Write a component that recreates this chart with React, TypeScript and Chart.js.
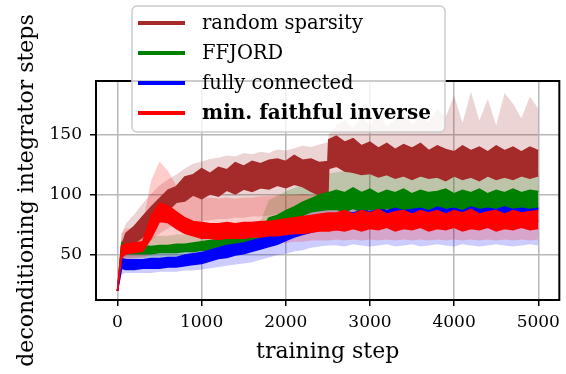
import React, { useEffect, useRef } from "react";
import { Chart, registerables } from "chart.js";

Chart.register(...registerables);

const steps = [0, 50, 100, 200, 300, 400, 500, 600, 700, 800, 900, 1000, 1100, 1200, 1300, 1400, 1500, 1600, 1700, 1800, 1900, 2000, 2100, 2200, 2300, 2400, 2500, 2510, 2600, 2700, 2800, 2900, 3000, 3100, 3200, 3300, 3400, 3500, 3600, 3700, 3800, 3900, 4000, 4100, 4200, 4300, 4400, 4500, 4600, 4700, 4800, 4900, 5000];

const xTicks = [0, 1000, 2000, 3000, 4000, 5000];
const yTicks = [50, 100, 150];

const legendLabels = ["random sparsity", "FFJORD", "fully connected", "min. faithful inverse"];

// random sparsity
const randomHi = [20, 58, 68, 74, 82, 90, 97, 104, 107, 115, 117, 122, 118, 123, 121, 127, 124, 128, 126, 129, 130, 128, 133, 129, 130, 127, 128, 146, 149, 144, 147, 141, 144, 139, 143, 138, 142, 139, 143, 137, 141, 138, 136, 141, 137, 140, 136, 141, 137, 140, 136, 140, 137];
const randomLo = [20, 52, 57, 60, 65, 74, 83, 87, 94, 95, 100, 97, 101, 99, 104, 101, 105, 103, 106, 105, 108, 106, 109, 107, 103, 100, 99, 122, 124, 120, 119, 117, 118, 115, 117, 114, 116, 113, 116, 114, 115, 112, 116, 113, 115, 112, 116, 113, 115, 113, 116, 114, 116];
const randomShadeHi = [20, 68, 76, 84, 93, 101, 108, 113, 117, 122, 126, 128, 130, 131, 133, 132, 135, 134, 136, 135, 138, 137, 139, 141, 140, 142, 144, 150, 158, 162, 156, 165, 158, 168, 157, 163, 170, 159, 166, 161, 172, 165, 183, 160, 186, 162, 180, 158, 185, 176, 164, 182, 172];
const randomShadeLo = [20, 48, 52, 55, 58, 62, 68, 72, 76, 78, 78, 78, 79, 80, 80, 81, 81, 82, 82, 83, 84, 85, 86, 88, 88, 89, 90, 100, 101, 100, 101, 100, 101, 100, 101, 100, 101, 100, 101, 100, 101, 100, 101, 100, 101, 100, 101, 100, 101, 100, 101, 100, 101];

// FFJORD
const ffjordHi = [20, 60, 57, 57, 58, 57, 58, 58, 59, 59, 60, 61, 62, 63, 63, 65, 66, 67, 70, 81, 83, 87, 90, 94, 97, 100, 102, 102, 104, 102, 106, 102, 105, 101, 104, 102, 105, 101, 104, 102, 103, 105, 101, 104, 102, 105, 101, 104, 102, 105, 102, 104, 103];
const ffjordLo = [20, 53, 51, 51, 51, 51, 52, 52, 52, 53, 53, 54, 54, 55, 56, 57, 58, 59, 62, 72, 74, 77, 80, 83, 86, 87, 88, 88, 88, 86, 89, 86, 88, 86, 89, 87, 88, 86, 89, 87, 88, 86, 89, 87, 88, 86, 89, 87, 88, 86, 88, 87, 89];
const ffjordShadeHi = [20, 62, 63, 64, 64, 65, 66, 66, 67, 67, 68, 68, 69, 70, 71, 72, 73, 75, 78, 96, 99, 103, 106, 108, 110, 112, 114, 118, 119, 120, 119, 120, 119, 120, 119, 120, 119, 120, 119, 120, 119, 120, 119, 120, 119, 120, 119, 120, 119, 120, 119, 120, 119];
const ffjordShadeLo = [20, 46, 47, 47, 47, 47, 48, 48, 48, 49, 49, 50, 50, 51, 52, 53, 53, 55, 57, 62, 64, 67, 70, 73, 76, 78, 79, 80, 80, 81, 80, 81, 80, 81, 80, 81, 80, 81, 80, 81, 80, 81, 80, 81, 80, 81, 80, 81, 80, 81, 80, 81, 80];

// fully connected
const fullHi = [20, 47, 46, 46, 46, 47, 47, 48, 48, 50, 51, 52, 54, 56, 58, 59, 60, 62, 64, 66, 68, 71, 73, 76, 79, 81, 83, 83, 84, 86, 85, 87, 86, 88, 87, 89, 87, 88, 89, 87, 90, 88, 89, 87, 90, 88, 89, 88, 90, 88, 89, 88, 89];
const fullLo = [20, 39, 38, 38, 39, 39, 39, 40, 40, 41, 42, 43, 45, 47, 48, 50, 51, 53, 55, 57, 59, 62, 65, 67, 69, 71, 72, 72, 73, 74, 74, 75, 75, 76, 76, 76, 76, 76, 77, 76, 77, 77, 77, 77, 77, 77, 78, 77, 78, 77, 78, 78, 78];
const fullShadeHi = [20, 52, 52, 52, 52, 53, 53, 54, 55, 56, 57, 58, 60, 62, 64, 66, 68, 70, 72, 74, 76, 79, 82, 85, 88, 90, 92, 92, 95, 93, 100, 94, 96, 92, 99, 93, 95, 92, 98, 93, 94, 92, 97, 93, 95, 92, 99, 93, 94, 92, 96, 93, 94];
const fullShadeLo = [20, 34, 35, 35, 35, 35, 36, 36, 36, 37, 37, 38, 39, 40, 41, 42, 43, 44, 46, 48, 50, 51, 53, 54, 56, 57, 58, 58, 58, 57, 59, 58, 57, 58, 59, 57, 58, 59, 57, 58, 59, 58, 57, 59, 58, 57, 58, 59, 58, 57, 58, 59, 58];

// min. faithful inverse
const minFaithHi = [20, 58, 59, 60, 61, 82, 93, 91, 86, 81, 78, 77, 76, 76, 77, 76, 77, 77, 78, 78, 79, 80, 81, 82, 83, 84, 85, 85, 85, 87, 84, 87, 85, 88, 84, 86, 87, 84, 87, 85, 87, 84, 87, 85, 88, 84, 86, 87, 84, 87, 85, 86, 87];
const minFaithLo = [20, 48, 51, 52, 53, 64, 78, 77, 72, 68, 66, 64, 64, 63, 64, 64, 64, 65, 65, 66, 66, 67, 68, 68, 69, 70, 70, 70, 71, 70, 72, 70, 72, 71, 73, 70, 72, 71, 73, 70, 72, 71, 73, 70, 72, 71, 73, 70, 72, 71, 73, 71, 72];
const minShadeHi = [20, 68, 72, 72, 76, 112, 128, 120, 108, 102, 100, 98, 98, 97, 98, 97, 98, 98, 99, 99, 100, 100, 100, 101, 100, 100, 100, 98, 98, 97, 98, 97, 98, 97, 98, 97, 98, 97, 98, 97, 98, 97, 98, 97, 98, 97, 98, 97, 98, 97, 98, 97, 98];
const minShadeLo = [20, 42, 46, 47, 48, 50, 54, 56, 57, 57, 56, 56, 56, 57, 57, 58, 58, 58, 59, 59, 60, 60, 61, 61, 62, 62, 62, 62, 63, 62, 63, 62, 63, 62, 63, 62, 63, 62, 63, 62, 63, 62, 63, 62, 63, 62, 63, 62, 63, 62, 63, 62, 63];

const COLORS = ["#a52a2a", "#008000", "#0000ff", "#ff0000"];
const SHADES = ["rgba(165,42,42,0.2)", "rgba(0,128,0,0.2)", "rgba(0,0,255,0.2)", "rgba(255,0,0,0.2)"];

const pts = (arr: number[]) => steps.map((s, i) => ({ x: s, y: arr[i] }));

function band(hi: number[], lo: number[], color: string, order: number, solid: boolean) {
  const common = {
    pointRadius: 0,
    tension: 0,
    order,
    borderColor: solid ? color : "rgba(0,0,0,0)",
    borderWidth: solid ? 1.5 : 0,
  };
  return [
    { ...common, data: pts(hi), fill: "+1", backgroundColor: color },
    { ...common, data: pts(lo), fill: false, backgroundColor: color },
  ];
}

const SERIF = "'DejaVu Serif', serif";

const frameAndLegend = {
  id: "frameAndLegend",
  afterDatasetsDraw(chart: any) {
    const { ctx, chartArea } = chart;
    ctx.save();
    ctx.strokeStyle = "#000";
    ctx.lineWidth = 2;
    ctx.strokeRect(chartArea.left, chartArea.top, chartArea.right - chartArea.left, chartArea.bottom - chartArea.top);
    ctx.restore();
  },
  afterDraw(chart: any) {
    const ctx = chart.ctx;
    ctx.save();
    ctx.beginPath();
    ctx.roundRect(132, 6, 313, 126, 5);
    ctx.fillStyle = "rgba(255,255,255,0.8)";
    ctx.fill();
    ctx.strokeStyle = "#cccccc";
    ctx.lineWidth = 1.5;
    ctx.stroke();
    legendLabels.forEach((label, i) => {
      const cy = 23 + i * 30;
      ctx.beginPath();
      ctx.moveTo(138, cy);
      ctx.lineTo(185, cy);
      ctx.strokeStyle = COLORS[i];
      ctx.lineWidth = 4;
      ctx.stroke();
      ctx.fillStyle = "#000";
      ctx.font = (i === 3 ? "bold 20px " : "19.5px ") + SERIF;
      ctx.textBaseline = "middle";
      ctx.textAlign = "left";
      ctx.fillText(label, 202, cy + 1);
    });
    ctx.restore();
  },
};

export default function App() {
  const ref = useRef<HTMLCanvasElement | null>(null);
  useEffect(() => {
    if (!ref.current) return;
    const datasets = [
      ...band(minFaithHi, minFaithLo, COLORS[3], 1, true),
      ...band(fullHi, fullLo, COLORS[2], 2, true),
      ...band(ffjordHi, ffjordLo, COLORS[1], 3, true),
      ...band(randomHi, randomLo, COLORS[0], 4, true),
      ...band(minShadeHi, minShadeLo, SHADES[3], 5, false),
      ...band(fullShadeHi, fullShadeLo, SHADES[2], 6, false),
      ...band(ffjordShadeHi, ffjordShadeLo, SHADES[1], 7, false),
      ...band(randomShadeHi, randomShadeLo, SHADES[0], 8, false),
    ];
    const chart = new Chart(ref.current, {
      type: "line",
      data: { datasets: datasets as any },
      plugins: [frameAndLegend],
      options: {
        animation: false,
        responsive: true,
        maintainAspectRatio: false,
        devicePixelRatio: 1,
        layout: { padding: { top: 81, right: 2, left: 0, bottom: 0 } },
        plugins: { legend: { display: false }, tooltip: { enabled: false } },
        scales: {
          x: {
            type: "linear",
            min: -255,
            max: 5250,
            afterBuildTicks: (axis: any) => {
              axis.ticks = xTicks.map((v) => ({ value: v }));
            },
            afterFit: (scale: any) => {
              scale.height = 74;
            },
            grid: { color: "#b8b8b8", lineWidth: 1.5, tickColor: "#000", tickLength: 6, tickWidth: 1.5 },
            border: { display: false },
            ticks: {
              color: "#000",
              font: { family: SERIF, size: 17 },
              padding: 6,
              maxRotation: 0,
              callback: (v: any) => String(v),
            },
            title: {
              display: true,
              text: "training step",
              color: "#000",
              font: { family: SERIF, size: 22 },
              padding: { top: 0, bottom: 9 },
            },
          },
          y: {
            type: "linear",
            min: 12.5,
            max: 195,
            afterBuildTicks: (axis: any) => {
              axis.ticks = yTicks.map((v) => ({ value: v }));
            },
            afterFit: (scale: any) => {
              scale.width = 96;
            },
            grid: { color: "#b8b8b8", lineWidth: 1.5, tickColor: "#000", tickLength: 6, tickWidth: 1.5 },
            border: { display: false },
            ticks: {
              color: "#000",
              font: { family: SERIF, size: 17 },
              padding: 8,
              callback: (v: any) => String(v),
            },
            title: {
              display: true,
              text: "deconditioning integrator steps",
              color: "#000",
              font: { family: SERIF, size: 22 },
              padding: { top: 14, bottom: 0 },
            },
          },
        },
      },
    });
    return () => chart.destroy();
  }, []);
  return (
    <div style={{ position: "fixed", left: 0, top: 0, width: 566, height: 374, background: "#fff" }}>
      <canvas ref={ref} />
    </div>
  );
}
